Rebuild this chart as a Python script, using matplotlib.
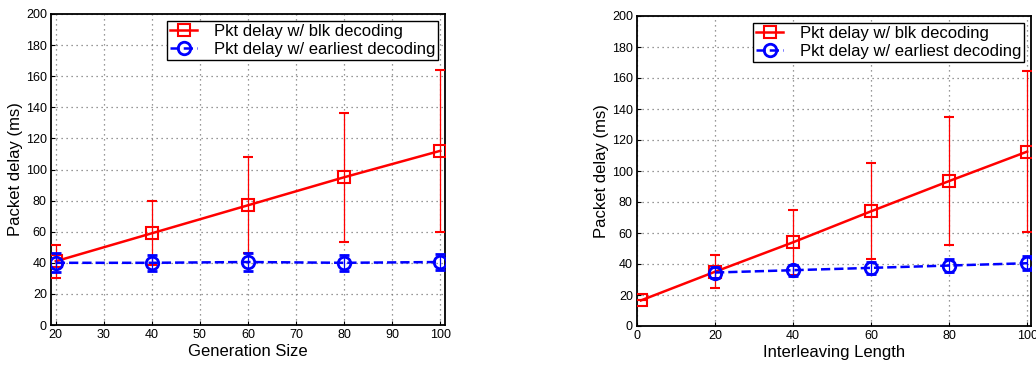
import numpy as np
from matplotlib import pyplot as plt

plt.rcParams['font.family'] = ['Liberation Sans', 'DejaVu Sans']

# left panel: generation size
gen_sizes = [20, 40, 60, 80, 100]
gen_blk = [41, 59, 77, 95, 112]
gen_blk_err = [10.5, 20.5, 31, 41.5, 52]
gen_early = [40, 40, 40.5, 40, 40.5]
gen_early_err = [6, 5, 5.5, 5, 5]

# right panel: interleaving length
il_blk_x = [1, 20, 40, 60, 80, 100]
il_blk = [16.5, 35, 54, 74, 93.5, 112.5]
il_blk_err = [0, 10.5, 21, 31, 41.5, 52]
il_early_x = [20, 40, 60, 80, 100]
il_early = [34.5, 36, 37.5, 39, 40.5]
il_early_err = [3.5, 3.5, 4, 4, 4.5]

fig = plt.figure(figsize=(10.36, 3.67), dpi=100)
ax1 = fig.add_axes([51/1036, 1-325/367, 394/1036, 311/367])
ax2 = fig.add_axes([637/1036, 1-326/367, 394/1036, 310/367])


def draw(ax, bx, by, be, ex, ey, ee, xlim, xticks, xlabel):
    eb1 = ax.errorbar(bx, by, yerr=be, color='red', lw=1.8, marker='s', ms=8,
                      mfc='none', mew=1.5, elinewidth=0.9, capsize=3.5, capthick=0.9,
                      zorder=3)
    eb2 = ax.errorbar(ex, ey, yerr=ee, color='blue', lw=1.8, ls='--', marker='o', ms=9,
                      mfc='none', mew=2, elinewidth=0.9, capsize=3.5, capthick=0.9,
                      zorder=4)
    ax.set_xlim(*xlim)
    ax.set_ylim(0, 200)
    ax.set_xticks(xticks)
    ax.set_yticks(range(0, 201, 20))
    ax.grid(True, ls=(0, (1, 3)), color='#777777', lw=0.9)
    ax.tick_params(direction='in', labelsize=9, length=3, pad=3)
    for s in ax.spines.values():
        s.set_linewidth(1.3)
    ax.set_xlabel(xlabel, fontsize=12, labelpad=2)
    ax.set_ylabel('Packet delay (ms)', fontsize=12, labelpad=2)
    leg = ax.legend([eb1.lines[0], eb2.lines[0]],
                    ['Pkt delay w/ blk decoding', 'Pkt delay w/ earliest decoding'],
                    loc='upper right', fontsize=12, fancybox=False,
                    framealpha=1, edgecolor='black', borderpad=0.2,
                    handlelength=1.6, handletextpad=1.0, labelspacing=0.15,
                    borderaxespad=0.4)
    leg.get_frame().set_linewidth(1.0)


draw(ax1, gen_sizes, gen_blk, gen_blk_err, gen_sizes, gen_early, gen_early_err,
     (19, 101), range(20, 101, 10), 'Generation Size')
draw(ax2, il_blk_x, il_blk, il_blk_err, il_early_x, il_early, il_early_err,
     (0, 101), range(0, 101, 20), 'Interleaving Length')

fig.savefig('out.png', dpi=100)
